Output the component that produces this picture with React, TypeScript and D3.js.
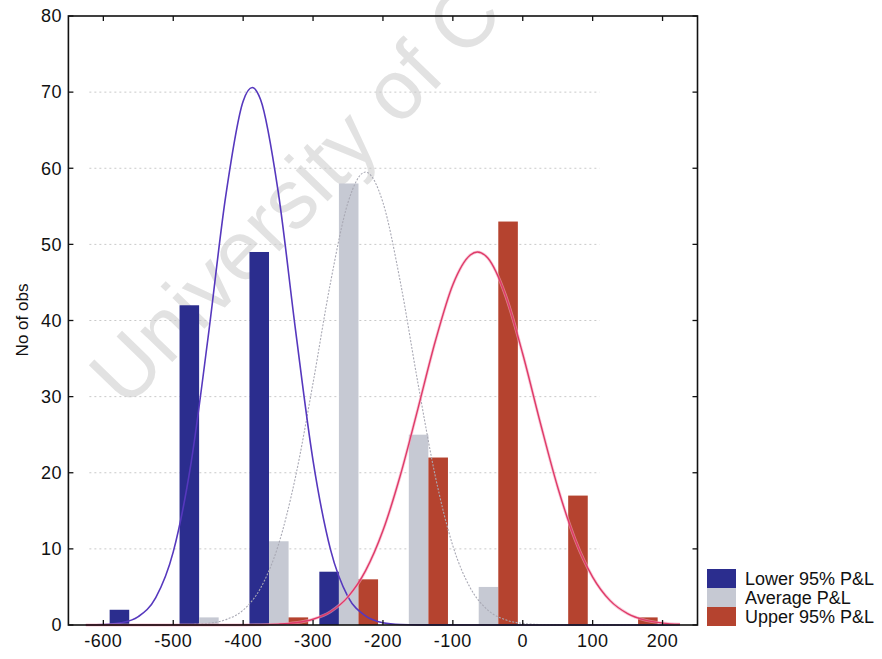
import React from 'react';
import * as d3 from 'd3';

// histogram bins (lower edge of each 100-wide bin)
const bins = [-600, -500, -400, -300, -200, -100, 0, 100];
const seriesNames = ['Lower 95% P&L', 'Average P&L', 'Upper 95% P&L'];
const lowerCounts = [2, 42, 49, 7, 0, 0, 0, 0];
const averageCounts = [0, 1, 11, 58, 25, 5, 0, 0];
const upperCounts = [0, 0, 1, 6, 22, 53, 17, 1];

// fitted curves
const lowerFitX = [-625, -600, -575, -550, -525, -500, -475, -450, -425, -400, -387, -375, -350, -325, -300, -275, -250, -225, -200, -175, -150, 225];
const lowerFitY = [0.02, 0.06, 0.28, 1.1, 3.6, 9.6, 21.0, 37.9, 56.3, 68.8, 70.6, 69.0, 57.0, 38.7, 21.6, 9.9, 3.7, 1.2, 0.3, 0.06, 0.01, 0];
const averageFitX = [-625, -500, -475, -450, -425, -400, -375, -350, -325, -300, -275, -250, -225, -200, -175, -150, -125, -100, -75, -50, -25, 0, 25, 50, 225];
const averageFitY = [0, 0.01, 0.06, 0.21, 0.69, 1.96, 4.86, 10.4, 19.5, 31.8, 45.0, 55.5, 59.5, 55.5, 45.0, 31.8, 19.5, 10.4, 4.86, 1.96, 0.69, 0.21, 0.06, 0.01, 0];
const upperFitX = [-625, -400, -375, -350, -325, -300, -275, -250, -225, -200, -175, -150, -125, -100, -75, -65, -50, -25, 0, 25, 50, 75, 100, 125, 150, 175, 200, 225];
const upperFitY = [0, 0.01, 0.03, 0.11, 0.30, 0.76, 1.75, 3.7, 7.1, 12.4, 19.7, 28.4, 37.3, 44.7, 48.6, 49.0, 48.2, 43.4, 35.6, 26.6, 18.1, 11.2, 6.3, 3.2, 1.5, 0.64, 0.25, 0.09];

const xTicks = [-600, -500, -400, -300, -200, -100, 0, 100, 200];
const yTicks = [0, 10, 20, 30, 40, 50, 60, 70, 80];
const gridTicks = [10, 20, 30, 40, 50, 60, 70];

const barColors = ['#2b2d8e', '#c6c9d3', '#b5432f'];
const font = '"Liberation Sans", Arial, sans-serif';

export default function App() {
  const left = 68.4, right = 697.5, top = 16, bottom = 625;
  const x = d3.scaleLinear().domain([-650, 250]).range([left, right]);
  const y = d3.scaleLinear().domain([0, 80]).range([bottom, top]);
  const allCounts = [lowerCounts, averageCounts, upperCounts];

  const inner = d3.scaleBand().domain(seriesNames).range([9, 93]).padding(0);

  const line = d3.line<[number, number]>()
    .x(d => x(d[0]))
    .y(d => y(d[1]))
    .curve(d3.curveMonotoneX);
  const pts = (xs: number[], ys: number[]) => xs.map((v, i) => [v, ys[i]] as [number, number]);

  return (
    <svg width={882} height={659} style={{ display: 'block', position: 'absolute', left: 0, top: 0 }}>
      {/* watermark */}
      <text transform="translate(126,410) rotate(-46)" fontFamily={font} fontSize={84}
        fill="#e2e2e2">University of C</text>

      {/* grid */}
      {gridTicks.map(t => (
        <line key={t} x1={x(-620)} x2={x(110)} y1={y(t)} y2={y(t)}
          stroke="#c9c9c9" strokeWidth={1} strokeDasharray="2,3" />
      ))}

      {/* bars */}
      {allCounts.map((counts, s) => bins.map((b, i) => {
        if (counts[i] <= 0) return null;
        const x0 = x(b + (inner(seriesNames[s]) as number));
        const x1 = x(b + (inner(seriesNames[s]) as number) + inner.bandwidth());
        return <rect key={s + '-' + i} x={x0} y={y(counts[i])} width={x1 - x0}
          height={y(0) - y(counts[i])} fill={barColors[s]} />;
      }))}

      {/* fitted curves */}
      <path d={line(pts(averageFitX, averageFitY)) || ''} fill="none" stroke="#a9a9b4"
        strokeWidth={1.1} strokeDasharray="2,1.5" />
      <path d={line(pts(lowerFitX, lowerFitY)) || ''} fill="none" stroke="#5638be" strokeWidth={1.6} />
      <path d={line(pts(upperFitX, upperFitY)) || ''} fill="none" stroke="#f4a6c0" strokeWidth={3} opacity={0.6} />
      <path d={line(pts(upperFitX, upperFitY)) || ''} fill="none" stroke="#df3a68" strokeWidth={1.4} />

      {/* frame */}
      <rect x={left} y={top} width={right - left} height={bottom - top} fill="none" stroke="#111" strokeWidth={1.6} />
      {xTicks.map(t => (
        <g key={t}>
          <line x1={x(t)} x2={x(t)} y1={bottom} y2={bottom - 5} stroke="#111" strokeWidth={1.3} />
          <line x1={x(t)} x2={x(t)} y1={top} y2={top + 5} stroke="#111" strokeWidth={1.3} />
          <text x={x(t)} y={647} textAnchor="middle" fontFamily={font} fontSize={18}
            letterSpacing={0.5} fill="#111">{t}</text>
        </g>
      ))}
      {yTicks.map(t => (
        <g key={t}>
          <line x1={left} x2={left + 5} y1={y(t)} y2={y(t)} stroke="#111" strokeWidth={1.3} />
          <line x1={right} x2={right - 5} y1={y(t)} y2={y(t)} stroke="#111" strokeWidth={1.3} />
          <text x={62} y={y(t)} dy="0.35em" textAnchor="end" fontFamily={font} fontSize={18}
            letterSpacing={0.5} fill="#111">{t}</text>
        </g>
      ))}
      <text transform="translate(28,320) rotate(-90)" textAnchor="middle" fontFamily={font}
        fontSize={17} fill="#111">No of obs</text>

      {/* legend */}
      {seriesNames.map((n, i) => (
        <g key={n}>
          <rect x={707} y={569 + i * 19} width={29} height={19} fill={barColors[i]} />
          <text x={745} y={585 + i * 19} fontFamily={font} fontSize={18} fill="#111">{n}</text>
        </g>
      ))}
    </svg>
  );
}
